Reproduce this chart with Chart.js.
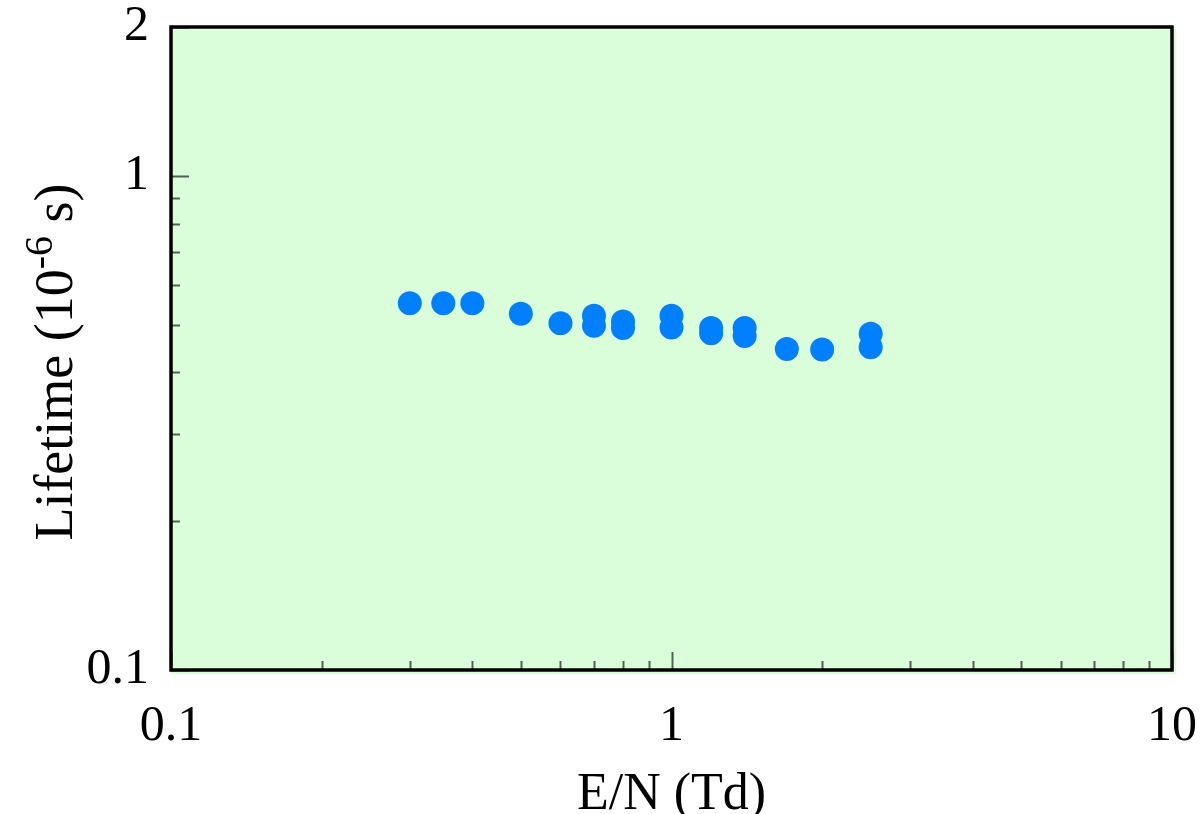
<!DOCTYPE html>
<html>
<head>
<meta charset="utf-8">
<script src="https://cdn.jsdelivr.net/npm/chart.js@4.4.1/dist/chart.umd.min.js"></script>
<style>
  html, body { margin: 0; padding: 0; background: #ffffff; }
  #wrap { width: 1202px; height: 814px; position: relative; }
</style>
</head>
<body>
<div id="wrap"><canvas id="c" width="1202" height="814"></canvas></div>
<script>
// ---- data ----
const fieldEN = [0.3, 0.35, 0.4, 0.5, 0.6, 0.7, 0.7, 0.8, 0.8, 1.0, 1.0, 1.2, 1.2, 1.4, 1.4, 1.7, 2.0, 2.5, 2.5];
const lifetime = [0.552, 0.552, 0.552, 0.526, 0.503, 0.521, 0.497, 0.507, 0.492, 0.521, 0.493, 0.492, 0.480, 0.492, 0.474, 0.446, 0.445, 0.479, 0.450];

const xTickLabels = [0.1, 1, 10];
const xMinorTicks = [0.2, 0.3, 0.4, 0.5, 0.6, 0.7, 0.8, 0.9, 2, 3, 4, 5, 6, 7, 8, 9];
const yTickLabels = [0.1, 1, 2];
const yMinorTicks = [0.2, 0.3, 0.4, 0.5, 0.6, 0.7, 0.8, 0.9];

const xTitle = 'E/N (Td)';
const yTitleMain = 'Lifetime (10';
const yTitleSup = '-6';
const yTitleEnd = ' s)';

const FONT = '"Liberation Serif", "Times New Roman", serif';
const BG = '#d9fed9';
const POINT = '#0080ff';

const points = fieldEN.map((x, i) => ({ x: x, y: lifetime[i] }));

const frame = {
  id: 'frame',
  beforeDatasetsDraw(chart) {
    const a = chart.chartArea, ctx = chart.ctx;
    ctx.save();
    ctx.fillStyle = BG;
    ctx.fillRect(a.left, a.top + 2, a.right - a.left + 4, a.bottom - a.top + 2);
    // inner tick marks
    ctx.strokeStyle = '#555f55';
    ctx.lineWidth = 2;
    const xs = chart.scales.x, ys = chart.scales.y;
    const drawX = (v, len) => {
      const p = Math.round(xs.getPixelForValue(v)) + 0.5;
      ctx.beginPath(); ctx.moveTo(p, a.bottom); ctx.lineTo(p, a.bottom - len); ctx.stroke();
    };
    const drawY = (v, len) => {
      const p = Math.round(ys.getPixelForValue(v)) + 0.5;
      ctx.beginPath(); ctx.moveTo(a.left, p); ctx.lineTo(a.left + len, p); ctx.stroke();
    };
    xMinorTicks.forEach(v => drawX(v, 9));
    xTickLabels.forEach(v => drawX(v, 18));
    yMinorTicks.forEach(v => drawY(v, 9));
    yTickLabels.forEach(v => drawY(v, 18));
    ctx.restore();
  },
  afterDatasetsDraw(chart) {
    const a = chart.chartArea, ctx = chart.ctx;
    ctx.save();
    ctx.strokeStyle = '#000';
    ctx.lineWidth = 3.5;
    ctx.strokeRect(a.left, a.top, a.right - a.left, a.bottom - a.top);
    // y axis title with superscript, rotated
    const big = '54px ' + FONT, sup = '40px ' + FONT;
    ctx.font = big;
    const w1 = ctx.measureText(yTitleMain).width;
    const w3 = ctx.measureText(yTitleEnd).width;
    ctx.font = sup;
    const w2 = ctx.measureText(yTitleSup).width;
    const total = w1 + w2 + w3;
    const cy = 362;
    ctx.translate(72, cy);
    ctx.rotate(-Math.PI / 2);
    ctx.fillStyle = '#000';
    ctx.textBaseline = 'alphabetic';
    ctx.textAlign = 'left';
    let x0 = -total / 2;
    ctx.font = big; ctx.fillText(yTitleMain, x0, 0); x0 += w1;
    ctx.font = sup; ctx.fillText(yTitleSup, x0, -20); x0 += w2;
    ctx.font = big; ctx.fillText(yTitleEnd, x0, 0);
    ctx.restore();
  }
};

new Chart(document.getElementById('c'), {
  type: 'scatter',
  data: {
    datasets: [{
      label: 'Lifetime',
      data: points,
      backgroundColor: POINT,
      borderColor: POINT,
      borderWidth: 0,
      pointRadius: 12,
      pointHoverRadius: 12
    }]
  },
  options: {
    responsive: false,
    animation: false,
    devicePixelRatio: 1,
    layout: { padding: { top: 27, right: 30, left: 0, bottom: 0 } },
    plugins: { legend: { display: false }, tooltip: { enabled: false } },
    scales: {
      x: {
        type: 'logarithmic',
        min: 0.1, max: 10,
        afterBuildTicks(s) { s.ticks = xTickLabels.map(v => ({ value: v })); },
        afterFit(s) { s.height = 144; s.paddingLeft = 0; s.paddingRight = 0; },
        grid: { display: false, drawTicks: false },
        border: { display: false },
        ticks: {
          autoSkip: false, maxRotation: 0, padding: 27,
          color: '#000', font: { family: FONT, size: 50 },
          callback: v => String(v)
        },
        title: {
          display: true, text: xTitle, color: '#000',
          font: { family: FONT, size: 52 },
          padding: { top: 0, bottom: -13 }
        }
      },
      y: {
        type: 'logarithmic',
        min: 0.1, max: 2,
        afterBuildTicks(s) { s.ticks = yTickLabels.map(v => ({ value: v })); },
        afterFit(s) { s.width = 171; s.paddingTop = 0; s.paddingBottom = 0; },
        grid: { display: false, drawTicks: false },
        border: { display: false },
        ticks: {
          autoSkip: false, padding: 22,
          color: '#000', font: { family: FONT, size: 50 },
          callback: v => String(v)
        }
      }
    }
  },
  plugins: [frame]
});
</script>
</body>
</html>
